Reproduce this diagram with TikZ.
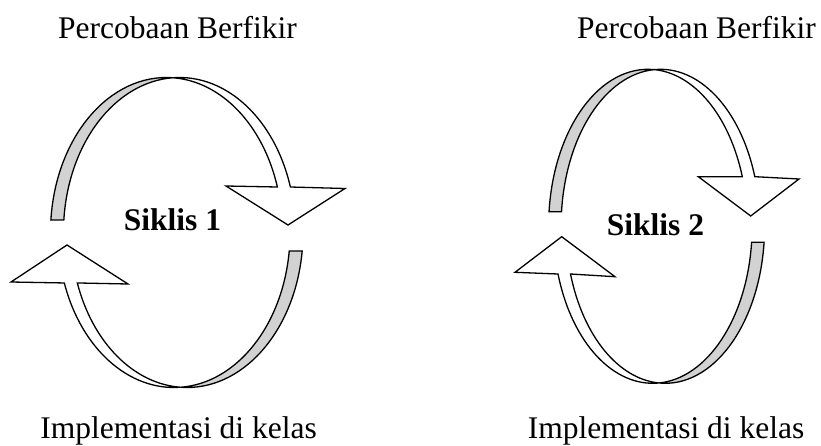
\documentclass[tikz,border=0pt]{standalone}
\usepackage{fontspec}
\setmainfont{Liberation Serif}
\usetikzlibrary{calc}
\definecolor{ribbon}{RGB}{210,210,210}
\tikzset{
    backside/.style={fill=ribbon, draw=black, line width=1.3pt},
    frontside/.style={fill=white, draw=black, line width=1.3pt},
    radone/.style={x radius=116, y radius=155},
    radtwo/.style={x radius=99.4, y radius=157},
    stagetext/.style={anchor=base, inner sep=0pt, font=\fontsize{31.5}{38}\selectfont},
    cycletext/.style={anchor=base, inner sep=0pt, font=\fontsize{31.5}{38}\selectfont\bfseries}
}

\begin{document}
\begin{tikzpicture}[x=1pt,y=1pt]
		\useasboundingbox (0,0) rectangle (821,445);
		
		% Ellipse centres of cycle 1
		\coordinate (c1L) at (166.5,212.5);
		\coordinate (c1R) at (179.5,212.5);
		\coordinate (c1L2) at (174,212.5);
		\coordinate (c1R2) at (187,212.5);
		
		% Cycle 1, upper ribbon
		\filldraw [backside] (c1L) ++(175.37:116 and 155) arc[radone, start angle=175.37, end angle=86.8]
			arc[radone, start angle=93.2, end angle=175.37] -- cycle;
		\filldraw [frontside] (c1R) ++(93.2:116 and 155) arc[radone, start angle=93.2, end angle=17.07]
			-- (345,256.5) -- (288,220) -- (226,259)
			-- ($(c1L)+(17.07:116 and 155)$) arc[radone, start angle=17.07, end angle=86.8] -- cycle;
		
		% Cycle 1, lower ribbon
		\filldraw [backside] (c1R2) ++(-6.85:116 and 155) arc[radone, start angle=-6.85, end angle=-93.2]
			arc[radone, start angle=-86.8, end angle=-6.85] -- cycle;
		\filldraw [frontside] (c1L2) ++(-86.8:116 and 155) arc[radone, start angle=-86.8, end angle=-161]
			-- (11,163) -- (67,200) -- (128,161)
			-- ($(c1R2)+(-161:116 and 155)$) arc[radone, start angle=-161, end angle=-93.2] -- cycle;
		
		% Ellipse centres of cycle 2
		\coordinate (c2L) at (648,218.7);
		\coordinate (c2R) at (660.5,218.7);
		\coordinate (c2L2) at (652.7,218.7);
		\coordinate (c2R2) at (665.2,218.7);
		
		% Cycle 2, upper ribbon
		\filldraw [backside] (c2L) ++(174.66:99.4 and 157) arc[radtwo, start angle=174.66, end angle=86.4]
			arc[radtwo, start angle=93.6, end angle=174.66] -- cycle;
		\filldraw [frontside] (c2R) ++(93.6:99.4 and 157) arc[radtwo, start angle=93.6, end angle=18.42]
			-- (799,266) -- (750.7,229) -- (698.3,268.3)
			-- ($(c2L)+(18.42:99.4 and 157)$) arc[radtwo, start angle=18.42, end angle=86.4] -- cycle;
		
		% Cycle 2, lower ribbon
		\filldraw [backside] (c2R2) ++(-5.85:99.4 and 157) arc[radtwo, start angle=-5.85, end angle=-93.6]
			arc[radtwo, start angle=-86.4, end angle=-5.85] -- cycle;
		\filldraw [frontside] (c2L2) ++(-86.4:99.4 and 157) arc[radtwo, start angle=-86.4, end angle=-162.31]
			-- (515,172.7) -- (561.7,208.3) -- (615,168.3)
			-- ($(c2R2)+(-162.31:99.4 and 157)$) arc[radtwo, start angle=-162.31, end angle=-93.6] -- cycle;
		
		% Stage labels
		\node [stagetext] (think1) at (177.5,406) {Percobaan Berfikir};
		\node [stagetext] (think2) at (696.5,406) {Percobaan Berfikir};
		\node [stagetext] (act1) at (178.5,6.7) {Implementasi di kelas};
		\node [stagetext] (act2) at (666,6.7) {Implementasi di kelas};
		
		% Cycle labels
		\node [cycletext] (sik1) at (172.5,215) {Siklis 1};
		\node [cycletext] (sik2) at (655.5,210) {Siklis 2};
		
	\end{tikzpicture}
\end{document}
